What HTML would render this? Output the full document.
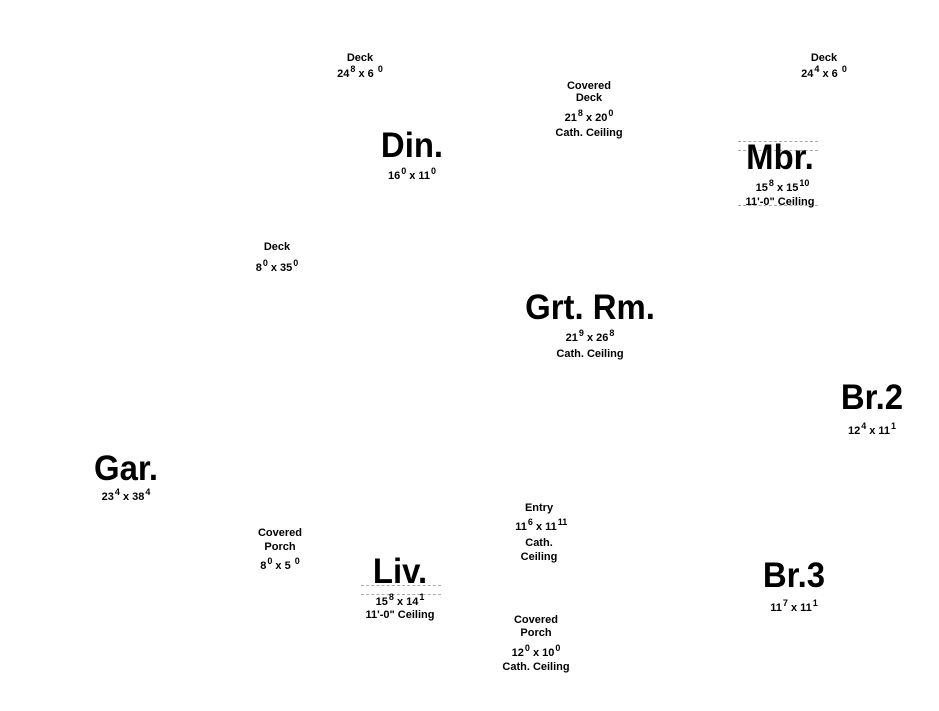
<!DOCTYPE html>
<html><head><meta charset="utf-8"><style>
html,body{margin:0;padding:0;background:#fff;}
body{width:939px;height:711px;position:relative;overflow:hidden;font-family:"Liberation Sans",Arial,sans-serif;font-weight:bold;color:#000;}
.s{position:absolute;font-size:11px;line-height:11px;white-space:nowrap;transform:translateX(-50%);}
.b{position:absolute;font-size:35px;line-height:35px;white-space:nowrap;transform:translateX(-50%) scaleX(0.94);}
sup{font-size:9px;position:relative;top:-5px;vertical-align:baseline;display:inline-block;width:4px;text-align:center;margin:0 1px;}
.d{position:absolute;height:0;border-top:1px dashed #aaa;}
</style></head><body>

<div class="s" style="left:360px;top:53px">Deck</div>
<div class="s" style="left:360px;top:69px">24<sup>8</sup> x 6 <sup>0</sup></div>

<div class="s" style="left:589px;top:81px">Covered</div>
<div class="s" style="left:589px;top:93px">Deck</div>
<div class="s" style="left:589px;top:113px">21<sup>8</sup> x 20<sup>0</sup></div>
<div class="s" style="left:589px;top:128px">Cath. Ceiling</div>

<div class="b" style="left:412px;top:128px">Din.</div>
<div class="s" style="left:412px;top:171px">16<sup>0</sup> x 11<sup>0</sup></div>

<div class="s" style="left:824px;top:53px">Deck</div>
<div class="s" style="left:824px;top:69px">24<sup>4</sup> x 6 <sup>0</sup></div>

<div class="d" style="left:738px;width:80px;top:141px"></div>
<div class="d" style="left:738px;width:80px;top:150px"></div>
<div class="d" style="left:738px;width:80px;top:205px"></div>
<div class="b" style="left:780px;top:140px">Mbr.</div>
<div class="s" style="left:780px;top:183px">15<sup>8</sup> x 15<sup>10</sup></div>
<div class="s" style="left:780px;top:197px">11'-0" Ceiling</div>

<div class="s" style="left:277px;top:242px">Deck</div>
<div class="s" style="left:277px;top:263px">8<sup>0</sup> x 35<sup>0</sup></div>

<div class="b" style="left:590px;top:290px">Grt. Rm.</div>
<div class="s" style="left:590px;top:333px">21<sup>9</sup> x 26<sup>8</sup></div>
<div class="s" style="left:590px;top:349px">Cath. Ceiling</div>

<div class="b" style="left:872px;top:380px">Br.2</div>
<div class="s" style="left:872px;top:426px">12<sup>4</sup> x 11<sup>1</sup></div>

<div class="b" style="left:126px;top:451px">Gar.</div>
<div class="s" style="left:126px;top:492px">23<sup>4</sup> x 38<sup>4</sup></div>

<div class="s" style="left:280px;top:528px">Covered</div>
<div class="s" style="left:280px;top:542px">Porch</div>
<div class="s" style="left:280px;top:561px">8<sup>0</sup> x 5 <sup>0</sup></div>

<div class="s" style="left:539px;top:503px">Entry</div>
<div class="s" style="left:539px;top:522px">11<sup>6</sup> x 11<sup>11</sup></div>
<div class="s" style="left:539px;top:538px">Cath.</div>
<div class="s" style="left:539px;top:552px">Ceiling</div>

<div class="d" style="left:361px;width:80px;top:585px"></div>
<div class="d" style="left:361px;width:80px;top:594px"></div>
<div class="b" style="left:400px;top:554px">Liv.</div>
<div class="s" style="left:400px;top:597px">15<sup>8</sup> x 14<sup>1</sup></div>
<div class="s" style="left:400px;top:610px">11'-0" Ceiling</div>

<div class="b" style="left:794px;top:558px">Br.3</div>
<div class="s" style="left:794px;top:603px">11<sup>7</sup> x 11<sup>1</sup></div>

<div class="s" style="left:536px;top:615px">Covered</div>
<div class="s" style="left:536px;top:628px">Porch</div>
<div class="s" style="left:536px;top:648px">12<sup>0</sup> x 10<sup>0</sup></div>
<div class="s" style="left:536px;top:662px">Cath. Ceiling</div>

</body></html>
